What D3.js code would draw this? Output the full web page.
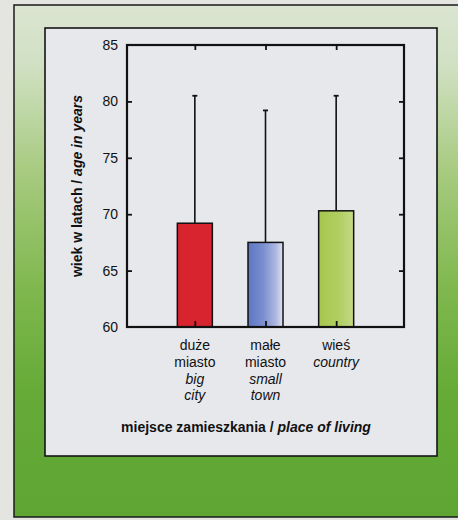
<!DOCTYPE html>
<html>
<head>
<meta charset="utf-8">
<script src="https://cdn.jsdelivr.net/npm/d3@7/dist/d3.min.js"></script>
<style>
  html, body { margin: 0; padding: 0; background: #e2e2df; overflow: hidden; }
  svg { display: block; }
  text { font-family: "Liberation Sans", Arial, sans-serif; fill: #111; }
</style>
</head>
<body>
<svg id="chart" width="458" height="520" viewBox="0 0 458 520"></svg>
<script>
// Mean age and upper whisker by place of living
const categoriesPl = ["duże miasto", "małe miasto", "wieś"];
const categoriesPlLines = [["duże", "miasto"], ["małe", "miasto"], ["wieś"]];
const categoriesEnLines = [["big", "city"], ["small", "town"], ["country"]];
const meanAge = [69.2, 67.5, 70.3];
const upperAge = [80.5, 79.2, 80.5];
const yTicks = [60, 65, 70, 75, 80, 85];

const W = 458, H = 520;
const svg = d3.select("#chart");
const defs = svg.append("defs");

// Frame gradient: pale at the top, saturated green towards the bottom
const frameGrad = defs.append("linearGradient")
  .attr("id", "frameGrad")
  .attr("gradientUnits", "userSpaceOnUse")
  .attr("x1", 0).attr("y1", 5).attr("x2", 0).attr("y2", 517);
[[0, "#dbe5d2"], [0.12, "#d0e0c2"], [0.33, "#a6ca7e"], [0.55, "#80b84f"], [0.75, "#66ab38"], [1, "#5ea533"]]
  .forEach(([o, c]) => frameGrad.append("stop").attr("offset", o).attr("stop-color", c));

const blueGrad = defs.append("linearGradient")
  .attr("id", "blueGrad").attr("x1", 0).attr("y1", 0).attr("x2", 1).attr("y2", 0);
[[0, "#5b76c2"], [0.45, "#7c90d0"], [0.8, "#aeb8e2"], [1, "#dfe2f0"]]
  .forEach(([o, c]) => blueGrad.append("stop").attr("offset", o).attr("stop-color", c));

const greenGrad = defs.append("linearGradient")
  .attr("id", "greenGrad").attr("x1", 0).attr("y1", 0).attr("x2", 1).attr("y2", 0);
[[0, "#a6c64e"], [0.6, "#b1cf62"], [1, "#c4da88"]]
  .forEach(([o, c]) => greenGrad.append("stop").attr("offset", o).attr("stop-color", c));

const barFills = ["#d8242f", "url(#blueGrad)", "url(#greenGrad)"];

// page background
svg.append("rect").attr("x", 0).attr("y", 0).attr("width", W).attr("height", H).attr("fill", "#e4e4e1");

// green frame with dark outline
svg.append("rect").attr("x", 14).attr("y", 5).attr("width", W - 14).attr("height", 512)
  .attr("fill", "url(#frameGrad)");
svg.append("path")
  .attr("d", `M${W},5 H14 V517 H${W}`)
  .attr("fill", "none").attr("stroke", "#1a1a1a").attr("stroke-width", 1.5);

// white inner panel
svg.append("rect").attr("x", 45).attr("y", 28).attr("width", 392).attr("height", 428)
  .attr("fill", "#e7e8ec").attr("stroke", "#151515").attr("stroke-width", 1.6);

// plot area
const plot = { left: 127, right: 404, top: 45, bottom: 327 };

const x = d3.scalePoint()
  .domain(categoriesPl)
  .range([plot.left, plot.right])
  .padding(0.96);

const y = d3.scaleLinear()
  .domain([60, 85])
  .range([plot.bottom, plot.top]);

const barW = 35;
const g = svg.append("g");

// whiskers (mean to upper value) with caps
categoriesPl.forEach((c, i) => {
  const cx = x(c);
  g.append("line").attr("x1", cx).attr("x2", cx)
    .attr("y1", y(meanAge[i])).attr("y2", y(upperAge[i]))
    .attr("stroke", "#111").attr("stroke-width", 1.6);
  g.append("line").attr("x1", cx - 2.5).attr("x2", cx + 2.5)
    .attr("y1", y(upperAge[i])).attr("y2", y(upperAge[i]))
    .attr("stroke", "#111").attr("stroke-width", 1.8);
});

// bars
g.selectAll("rect.bar")
  .data(categoriesPl)
  .join("rect")
  .attr("class", "bar")
  .attr("x", d => x(d) - barW / 2)
  .attr("width", barW)
  .attr("y", (d, i) => y(meanAge[i]))
  .attr("height", (d, i) => y(60) - y(meanAge[i]))
  .attr("fill", (d, i) => barFills[i])
  .attr("stroke", "#111")
  .attr("stroke-width", 1.5);

// axes: ticks pointing inward on all four sides
const axisLeft = d3.axisLeft(y).tickValues(yTicks).tickSizeInner(-5).tickSizeOuter(0).tickPadding(9);
const axisRight = d3.axisRight(y).tickValues(yTicks.slice(1, -1)).tickSizeInner(-5).tickSizeOuter(0).tickFormat("");
const axisTop = d3.axisTop(x).tickSizeInner(-5).tickSizeOuter(0).tickFormat("");
const axisBottom = d3.axisBottom(x).tickSizeInner(-6).tickSizeOuter(0).tickFormat("");

const gl = svg.append("g").attr("transform", `translate(${plot.left},0)`).call(axisLeft);
const gr = svg.append("g").attr("transform", `translate(${plot.right},0)`).call(axisRight);
const gt = svg.append("g").attr("transform", `translate(0,${plot.top})`).call(axisTop);
const gb = svg.append("g").attr("transform", `translate(0,${plot.bottom})`).call(axisBottom);

[gl, gr, gt, gb].forEach(a => {
  a.select(".domain").remove();
  a.selectAll(".tick line").attr("stroke", "#111").attr("stroke-width", 1.8);
});
gl.selectAll(".tick text")
  .style("font-family", '"Liberation Sans", Arial, sans-serif')
  .style("font-size", "14px").attr("fill", "#111");
gl.selectAll(".tick").filter(d => d === 60 || d === 85).select("line").remove();

// plot frame
svg.append("rect")
  .attr("x", plot.left).attr("y", plot.top)
  .attr("width", plot.right - plot.left).attr("height", plot.bottom - plot.top)
  .attr("fill", "none").attr("stroke", "#111").attr("stroke-width", 2.2);

// category labels: Polish (regular) over English (italic)
const lineH = 16.8;
categoriesPl.forEach((c, i) => {
  const lines = categoriesPlLines[i].map(t => ({ t, it: false }))
    .concat(categoriesEnLines[i].map(t => ({ t, it: true })));
  lines.forEach((l, j) => {
    svg.append("text")
      .attr("x", x(c)).attr("y", 350 + j * lineH)
      .attr("text-anchor", "middle")
      .style("font-size", "14px")
      .style("font-style", l.it ? "italic" : "normal")
      .text(l.t);
  });
});

// axis titles
const xt = svg.append("text")
  .attr("x", 246).attr("y", 432)
  .attr("text-anchor", "middle")
  .style("font-size", "14px").style("font-weight", "bold");
xt.append("tspan").text("miejsce zamieszkania / ");
xt.append("tspan").style("font-style", "italic").text("place of living");

const yt = svg.append("text")
  .attr("transform", `translate(82,${(plot.top + plot.bottom) / 2}) rotate(-90)`)
  .attr("text-anchor", "middle")
  .style("font-size", "14px").style("font-weight", "bold");
yt.append("tspan").text("wiek w latach / ");
yt.append("tspan").style("font-style", "italic").text("age in years");
</script>
</body>
</html>
